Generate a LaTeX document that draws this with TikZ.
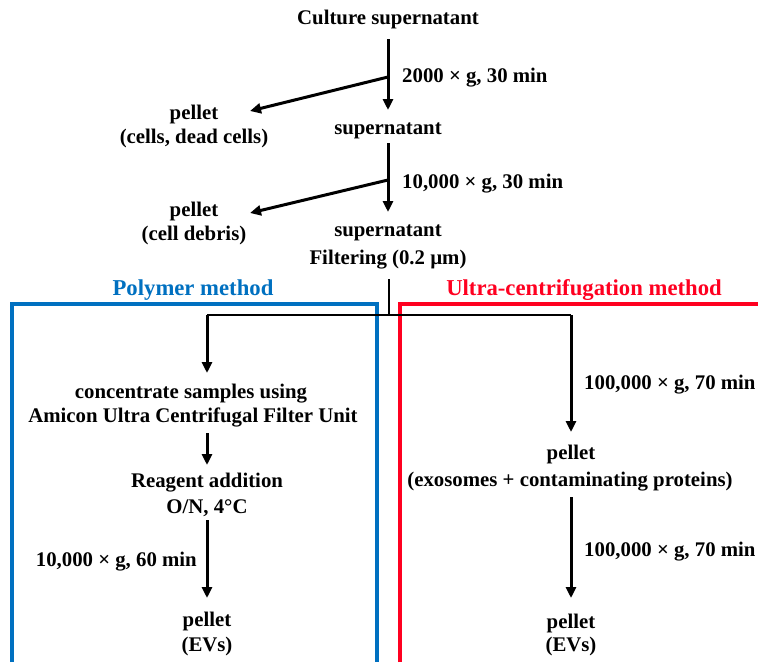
\documentclass[tikz,border=0pt]{standalone}
\usepackage{fontspec}
\setmainfont{Liberation Serif}
\usetikzlibrary{arrows.meta}
\definecolor{pblue}{RGB}{0,112,192}
\definecolor{ured}{RGB}{255,0,32}
\begin{document}
\begin{tikzpicture}[x=1pt,y=-1pt,
  lbl/.style={font=\bfseries\fontsize{20.8}{25}\selectfont, inner sep=0pt, anchor=base},
  lblw/.style={lbl, anchor=base west},
  lble/.style={lbl, anchor=base east},
  ttl/.style={lbl, font=\bfseries\fontsize{22.7}{27}\selectfont},
  arr/.style={line width=3pt, -{Triangle[width=10pt,length=11pt]}},
  thinline/.style={line width=1.5pt},
  filtline/.style={line width=2.4pt},
  boxline/.style={line width=4pt}]
\useasboundingbox (0,0) rectangle (758,662);

% boxes
\draw[boxline,pblue] (12,662) -- (12,304) -- (377,304) -- (377,662);
\draw[boxline,ured] (400,662) -- (400,304) -- (758,304);

% top flow
\node[lbl] (cs) at (388,24) {Culture supernatant};
\node[lbl] (s1) at (388,134) {supernatant};
\node[lbl] (s2) at (388,236) {supernatant};
\node[lbl] (filt) at (388,264) {Filtering (0.2 µm)};
\node[lblw] (g1) at (402,82) {2000 × g, 30 min};
\node[lblw] (g2) at (402,188) {10,000 × g, 30 min};
\node[lbl] (p1) at (194,119) {pellet};
\node[lbl] (p1b) at (194,143) {(cells, dead cells)};
\node[lbl] (p2) at (194,216) {pellet};
\node[lbl] (p2b) at (194,240) {(cell debris)};

\coordinate (b1) at (388,77);
\coordinate (t1) at (250,111);
\coordinate (b2) at (388,180);
\coordinate (t2) at (250,213);

\draw[arr] ([yshift=-15pt]cs.base) -- ([yshift=24pt]s1.base);
\draw[arr] (b1) -- (t1);
\draw[arr] ([yshift=-9pt]s1.base) -- ([yshift=24pt]s2.base);
\draw[arr] (b2) -- (t2);

% split
\coordinate (j) at (389,315);
\coordinate (jl) at (207,315);
\coordinate (jr) at (571,315);
\draw[filtline] ([xshift=1pt,yshift=-15pt]filt.base) -- (j);
\draw[thinline] (jl) -- (jr);

% titles
\node[ttl, text=pblue] (polyT) at (193,295) {Polymer method};
\node[ttl, text=ured] (ultraT) at (584,295) {Ultra-centrifugation method};

% polymer branch
\node[lbl] (c1) at (191,398) {concentrate samples using};
\node[lbl] (c2) at (193,422) {Amicon Ultra Centrifugal Filter Unit};
\node[lbl] (r1) at (207,487) {Reagent addition};
\node[lbl] (r2) at (207,513) {O/N, 4°C};
\node[lble] (g3) at (197,566) {10,000 × g, 60 min};
\node[lbl] (pe1) at (207,626) {pellet};
\node[lbl] (pe1b) at (207,651) {(EVs)};

\coordinate (tl1) at (207,373);
\coordinate (sl2) at (207,433);
\coordinate (tl2) at (207,465);
\coordinate (sl3) at (207,520);
\coordinate (tl3) at (207,598);
\draw[arr] (jl) -- (tl1);
\draw[arr] (sl2) -- (tl2);
\draw[arr] (sl3) -- (tl3);

% ultracentrifugation branch
\node[lblw] (g4) at (584,389) {100,000 × g, 70 min};
\node[lbl] (pu1) at (571,459) {pellet};
\node[lbl] (pu1b) at (570,486) {(exosomes + contaminating proteins)};
\node[lblw] (g5) at (584,556) {100,000 × g, 70 min};
\node[lbl] (pe2) at (571,628) {pellet};
\node[lbl] (pe2b) at (571,651) {(EVs)};

\coordinate (tr1) at (571,432);
\coordinate (sr2) at (571,497);
\coordinate (tr2) at (571,598);
\draw[arr] (jr) -- (tr1);
\draw[arr] (sr2) -- (tr2);
\end{tikzpicture}
\end{document}
